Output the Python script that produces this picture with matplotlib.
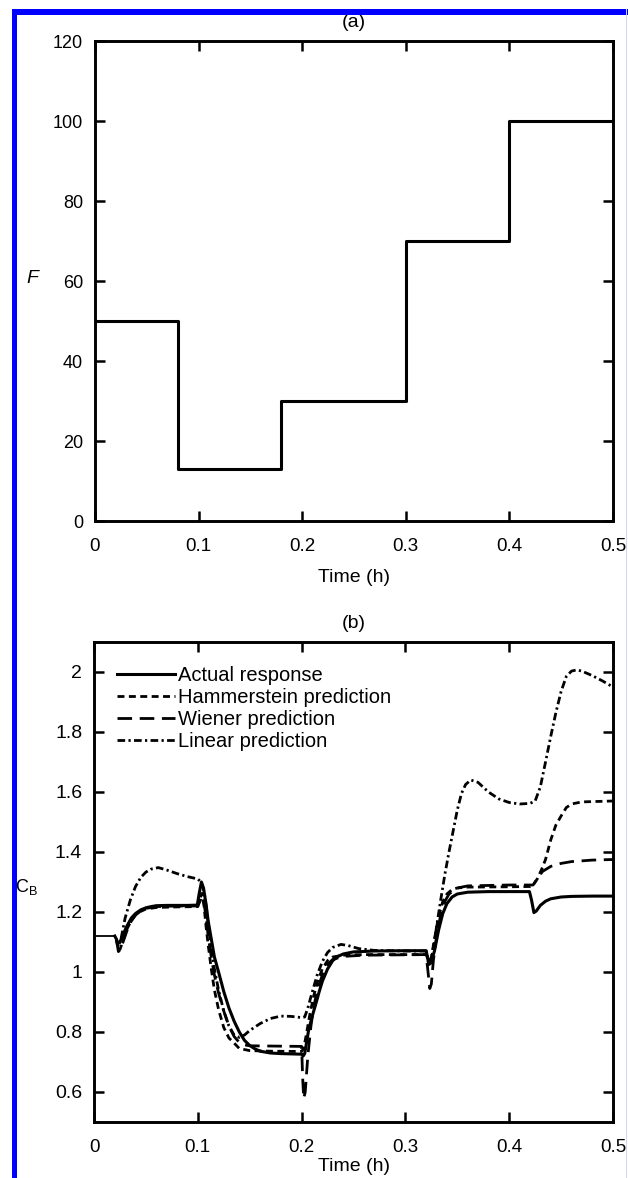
import matplotlib
matplotlib.use("Agg")
import matplotlib.pyplot as plt
from matplotlib.patches import Rectangle

plt.rcParams['font.family'] = ['Liberation Sans', 'DejaVu Sans']
plt.rcParams['mathtext.default'] = 'regular'
plt.rcParams['lines.scale_dashes'] = False

# ---- (a) feed-rate input sequence ----
step_times = [0.0, 0.08, 0.18, 0.30, 0.40, 0.50]
feed_rates = [50, 13, 30, 70, 100, 100]

# ---- (b) C_B responses ----
t_actual = [0.000, 0.0200, 0.0215, 0.0230, 0.0250, 0.0280, 0.0320, 0.0360, 0.0400, 0.0450,
            0.0500, 0.0550, 0.0600, 0.0700, 0.0800, 0.0900, 0.0995, 0.1015, 0.1035, 0.1055,
            0.1080, 0.1100, 0.1130, 0.1160, 0.1200, 0.1250, 0.1300, 0.1350, 0.1400, 0.1450,
            0.1500, 0.1550, 0.1600, 0.1700, 0.1800, 0.1900, 0.2000, 0.2015, 0.2030, 0.2066,
            0.2100, 0.2134, 0.2170, 0.2200, 0.2250, 0.2300, 0.2350, 0.2400, 0.2500, 0.2700,
            0.3000, 0.3200, 0.3212, 0.3225, 0.3245, 0.3280, 0.3320, 0.3360, 0.3400, 0.3450,
            0.3500, 0.3600, 0.3800, 0.4000, 0.4195, 0.4215, 0.4238, 0.4260, 0.4300, 0.4350,
            0.4400, 0.4500, 0.4600, 0.4800, 0.5000]
cb_actual = [1.120, 1.120, 1.110, 1.095, 1.100, 1.125, 1.155, 1.180, 1.195, 1.207,
             1.214, 1.218, 1.221, 1.222, 1.222, 1.222, 1.223, 1.265, 1.300, 1.280,
             1.225, 1.170, 1.110, 1.050, 1.000, 0.935, 0.880, 0.836, 0.800, 0.772,
             0.755, 0.744, 0.736, 0.730, 0.728, 0.727, 0.726, 0.720, 0.728, 0.803,
             0.850, 0.890, 0.935, 0.969, 1.010, 1.038, 1.052, 1.060, 1.067, 1.070,
             1.071, 1.071, 1.050, 1.025, 1.030, 1.070, 1.140, 1.195, 1.228, 1.250,
             1.260, 1.266, 1.268, 1.268, 1.268, 1.240, 1.198, 1.203, 1.222, 1.236,
             1.244, 1.250, 1.252, 1.253, 1.253]

t_hammer = [0.0215, 0.0235, 0.0250, 0.0280, 0.0320, 0.0360, 0.0400, 0.0450, 0.0500, 0.0600,
            0.0800, 0.1000, 0.1020, 0.1040, 0.1060, 0.1080, 0.1100, 0.1130, 0.1160, 0.1200,
            0.1250, 0.1300, 0.1350, 0.1400, 0.1500, 0.1700, 0.2000, 0.2020, 0.2050, 0.2080,
            0.2120, 0.2160, 0.2200, 0.2250, 0.2300, 0.2400, 0.2600, 0.3000, 0.3200, 0.3215,
            0.3230, 0.3250, 0.3280, 0.3320, 0.3360, 0.3400, 0.3450, 0.3500, 0.3600, 0.4000,
            0.4200, 0.4230, 0.4270, 0.4310, 0.4350, 0.4400, 0.4450, 0.4500, 0.4550, 0.4600,
            0.4700, 0.5000]
cb_hammer = [1.110, 1.072, 1.075, 1.105, 1.145, 1.172, 1.190, 1.202, 1.210, 1.215,
             1.217, 1.218, 1.245, 1.262, 1.220, 1.150, 1.090, 1.010, 0.940, 0.875,
             0.815, 0.780, 0.763, 0.745, 0.738, 0.736, 0.735, 0.745, 0.800, 0.860,
             0.925, 0.975, 1.010, 1.038, 1.050, 1.056, 1.058, 1.058, 1.058, 1.045,
             1.035, 1.050, 1.110, 1.185, 1.235, 1.260, 1.275, 1.280, 1.283, 1.284,
             1.285, 1.290, 1.310, 1.340, 1.375, 1.440, 1.490, 1.520, 1.548, 1.560,
             1.567, 1.570]

t_wiener = [0.0215, 0.0235, 0.0255, 0.0280, 0.0320, 0.0360, 0.0400, 0.0450, 0.0500, 0.0600,
            0.0800, 0.1000, 0.1020, 0.1040, 0.1060, 0.1080, 0.1100, 0.1130, 0.1160, 0.1200,
            0.1250, 0.1300, 0.1350, 0.1400, 0.1450, 0.1500, 0.2000, 0.2010, 0.2020, 0.2035,
            0.2060, 0.2090, 0.2120, 0.2160, 0.2200, 0.2250, 0.2300, 0.2400, 0.2600, 0.3200,
            0.3215, 0.3235, 0.3250, 0.3270, 0.3300, 0.3340, 0.3380, 0.3420, 0.3500, 0.3600,
            0.4000, 0.4230, 0.4270, 0.4320, 0.4400, 0.4500, 0.4600, 0.4800, 0.5000]
cb_wiener = [1.110, 1.068, 1.075, 1.100, 1.140, 1.170, 1.190, 1.203, 1.212, 1.218,
             1.220, 1.220, 1.235, 1.255, 1.230, 1.180, 1.120, 1.050, 0.990, 0.930,
             0.870, 0.820, 0.785, 0.765, 0.757, 0.754, 0.752, 0.650, 0.578, 0.600,
             0.720, 0.820, 0.890, 0.950, 0.990, 1.025, 1.042, 1.052, 1.056, 1.058,
             1.010, 0.945, 0.960, 1.040, 1.120, 1.190, 1.235, 1.260, 1.280, 1.287,
             1.290, 1.290, 1.310, 1.335, 1.352, 1.362, 1.368, 1.373, 1.375]

t_linear = [0.0215, 0.0235, 0.0260, 0.0300, 0.0350, 0.0400, 0.0450, 0.0500, 0.0550, 0.0620,
            0.0700, 0.0800, 0.0900, 0.1000, 0.1030, 0.1060, 0.1080, 0.1100, 0.1130, 0.1160,
            0.1200, 0.1250, 0.1300, 0.1350, 0.1400, 0.1450, 0.1500, 0.1600, 0.1700, 0.1800,
            0.1900, 0.2000, 0.2030, 0.2060, 0.2100, 0.2150, 0.2200, 0.2250, 0.2300, 0.2380,
            0.2450, 0.2550, 0.2700, 0.3000, 0.3200, 0.3220, 0.3240, 0.3270, 0.3300, 0.3340,
            0.3380, 0.3420, 0.3460, 0.3500, 0.3540, 0.3580, 0.3630, 0.3700, 0.3800, 0.3900,
            0.4000, 0.4100, 0.4200, 0.4250, 0.4300, 0.4350, 0.4400, 0.4450, 0.4500, 0.4550,
            0.4600, 0.4650, 0.4700, 0.4800, 0.4900, 0.5000]
cb_linear = [1.110, 1.085, 1.110, 1.180, 1.240, 1.285, 1.315, 1.333, 1.343, 1.348,
             1.340, 1.328, 1.318, 1.310, 1.300, 1.270, 1.220, 1.160, 1.080, 1.010,
             0.940, 0.870, 0.820, 0.790, 0.782, 0.790, 0.805, 0.828, 0.845, 0.853,
             0.852, 0.848, 0.850, 0.880, 0.930, 0.990, 1.035, 1.065, 1.082, 1.092,
             1.088, 1.078, 1.072, 1.070, 1.070, 1.040, 1.030, 1.080, 1.150, 1.240,
             1.325, 1.400, 1.470, 1.540, 1.595, 1.625, 1.640, 1.632, 1.600, 1.577,
             1.565, 1.560, 1.562, 1.570, 1.617, 1.700, 1.785, 1.865, 1.935, 1.985,
             2.003, 2.007, 2.003, 1.988, 1.970, 1.950]

x_ticks = [0.0, 0.1, 0.2, 0.3, 0.4, 0.5]
x_ticklabels = ['0', '0.1', '0.2', '0.3', '0.4', '0.5']
f_ticks = [0, 20, 40, 60, 80, 100, 120]
f_ticklabels = ['0', '20', '40', '60', '80', '100', '120']
cb_ticks = [0.6, 0.8, 1.0, 1.2, 1.4, 1.6, 1.8, 2.0]
cb_ticklabels = ['0.6', '0.8', '1', '1.2', '1.4', '1.6', '1.8', '2']

W, H = 628, 1178
fig = plt.figure(figsize=(W / 100, H / 100), dpi=100)
fig.patch.set_facecolor('white')


def px_axes(x0, y0, x1, y1):
    return fig.add_axes([x0 / W, 1 - y1 / H, (x1 - x0) / W, (y1 - y0) / H])


def style_axes(ax, ytick_size, xlabel_pad):
    for s in ax.spines.values():
        s.set_linewidth(2.1)
    ax.tick_params(direction='in', top=True, right=True, length=7.2, width=1.8)
    ax.tick_params(axis='x', labelsize=13.5, pad=12)
    ax.tick_params(axis='y', labelsize=ytick_size, pad=8.5)
    ax.set_xlim(0, 0.5)
    ax.set_xticks(x_ticks)
    ax.set_xticklabels(x_ticklabels)
    ax.set_xlabel('Time (h)', fontsize=14, labelpad=xlabel_pad)


# (a)
ax_a = px_axes(95, 41, 613, 521)
ax_a.plot(step_times, feed_rates, drawstyle='steps-post', color='black', lw=2.2)
ax_a.set_ylim(0, 120)
ax_a.set_yticks(f_ticks)
ax_a.set_yticklabels(f_ticklabels)
style_axes(ax_a, 13, 10)
ax_a.set_title('(a)', fontsize=14, pad=10)
ax_a.set_ylabel('F', fontsize=14, style='italic', rotation=0, ha='center', va='center')
ax_a.yaxis.set_label_coords(-0.12, 0.505)

# (b)
ax_b = px_axes(94, 642, 613, 1122)
ax_b.plot(t_actual[:2], cb_actual[:2], color='black', lw=1.3)
ax_b.plot(t_actual[1:], cb_actual[1:], color='black', lw=2.2, label='Actual response')
ax_b.plot(t_hammer, cb_hammer, color='black', lw=2.0, dashes=(5, 3.2),
          label='Hammerstein prediction')
ax_b.plot(t_wiener, cb_wiener, color='black', lw=2.0, dashes=(10.5, 5.5),
          label='Wiener prediction')
ax_b.plot(t_linear, cb_linear, color='black', lw=2.0, dashes=(5.5, 2.4, 1.6, 2.4),
          label='Linear prediction')
ax_b.set_ylim(0.5, 2.1)
ax_b.set_yticks(cb_ticks)
ax_b.set_yticklabels(cb_ticklabels)
style_axes(ax_b, 14, 2)
ax_b.set_title('(b)', fontsize=14, pad=10)
ax_b.set_ylabel('$C_B$', fontsize=13, rotation=0, ha='center', va='center')
ax_b.yaxis.set_label_coords(-0.131, 0.49)

handles, labels = ax_b.get_legend_handles_labels()
ax_b.legend(handles, labels, loc='upper left', bbox_to_anchor=(0.044, 0.949),
            frameon=False, fontsize=14.5, handlelength=2.9, handletextpad=0.15,
            labelspacing=0.14, borderpad=0, borderaxespad=0)

# page frame
blue = '#0000ff'
fig.add_artist(Rectangle((12 / W, 0), 5 / W, 1 - 9 / H, transform=fig.transFigure,
                         color=blue, lw=0, zorder=10))
fig.add_artist(Rectangle((12 / W, 1 - 15 / H), 1 - 12 / W, 6 / H, transform=fig.transFigure,
                         color=blue, lw=0, zorder=10))
fig.add_artist(Rectangle((625.5 / W, 0), 1.5 / W, 1 - 9 / H, transform=fig.transFigure,
                         color='#d4d4f4', lw=0, zorder=10))

fig.savefig('out.png', dpi=100, facecolor='white')
